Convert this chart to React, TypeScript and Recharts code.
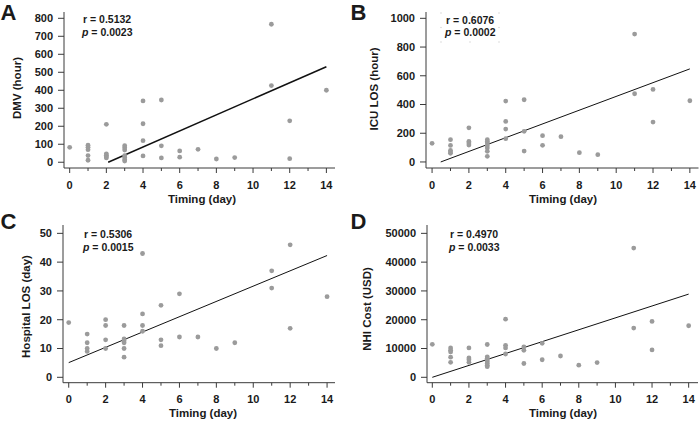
import React from "react";
import { ScatterChart, Scatter, XAxis, YAxis, ReferenceLine } from "recharts";

// timing (day) axis, shared by all four panels
const timingTicks = [0, 1, 2, 3, 4, 5, 6, 7, 8, 9, 10, 11, 12, 13, 14];

// A: duration of mechanical ventilation (hour)
const dmvTiming = [0, 1, 1, 1, 1, 1, 2, 2, 2, 2, 2, 3, 3, 3, 3, 3, 3, 3, 4, 4, 4, 4, 5, 5, 5, 6, 6, 7, 8, 9, 11, 11, 12, 12, 14];
const dmvHours = [83, 95, 83, 70, 37, 11, 211, 47, 39, 30, 24, 92, 81, 68, 37, 26, 14, 7, 341, 214, 120, 35, 346, 91, 24, 63, 28, 72, 18, 26, 767, 426, 230, 20, 400];
const dmvTicks = [0, 100, 200, 300, 400, 500, 600, 700, 800];
const dmvFit = [{ x: 2.1, y: 0 }, { x: 14, y: 531 }];

// B: ICU length of stay (hour)
const icuTiming = [0, 1, 1, 1, 1, 1, 2, 2, 2, 2, 3, 3, 3, 3, 3, 3, 3, 4, 4, 4, 4, 5, 5, 5, 6, 6, 7, 8, 9, 11, 11, 12, 12, 14];
const icuHours = [130, 155, 115, 80, 69, 60, 238, 143, 132, 118, 155, 143, 132, 113, 97, 74, 39, 424, 282, 229, 162, 433, 213, 76, 183, 116, 176, 65, 51, 890, 475, 505, 278, 426];
const icuTicks = [0, 200, 400, 600, 800, 1000];
const icuFit = [{ x: 0.47, y: 0 }, { x: 14, y: 648 }];

// C: hospital length of stay (day)
const losTiming = [0, 1, 1, 1, 1, 2, 2, 2, 2, 3, 3, 3, 3, 3, 3, 4, 4, 4, 4, 5, 5, 5, 6, 6, 7, 8, 9, 11, 11, 12, 12, 14];
const losDays = [19, 15, 12, 10, 9, 20, 18, 13, 10, 18, 13.3, 12.7, 12, 10, 7, 43, 22, 18, 16, 25, 13, 11, 29, 14, 14, 10, 12, 37, 31, 46, 17, 28];
const losTicks = [0, 10, 20, 30, 40, 50];
const losFit = [{ x: 0, y: 5.1 }, { x: 14, y: 42.3 }];

// D: NHI cost (USD)
const costTiming = [0, 1, 1, 1, 1, 1, 2, 2, 2, 2, 3, 3, 3, 3, 3, 3, 3, 3, 4, 4, 4, 4, 5, 5, 5, 6, 6, 7, 8, 9, 11, 11, 12, 12, 14];
const costUsd = [11460, 10200, 9400, 8800, 7000, 5200, 10200, 6700, 6100, 5200, 11400, 7100, 6600, 6000, 5400, 4800, 4200, 3700, 20200, 11100, 10200, 8100, 10600, 9400, 4800, 11800, 6100, 7400, 4200, 5100, 44900, 17100, 19400, 9500, 17900];
const costTicks = [0, 10000, 20000, 30000, 40000, 50000];
const costFit = [{ x: 0, y: 0 }, { x: 14, y: 28900 }];

const AXIS = "#3a3a3a";
const TEXT = "#1a1a1a";
const DOT = "#9b9b9b";
const FONT = '"Liberation Sans", Arial, sans-serif';

const toPoints = (xs: number[], ys: number[]) => xs.map((x, i) => ({ x, y: ys[i] }));

function TimingTick(props: any) {
  const { x, y, payload } = props;
  const major = payload.value % 2 === 0;
  return (
    <g>
      <line x1={x} x2={x} y1={y} y2={y + (major ? 5 : 3)} stroke={AXIS} />
      {major && (
        <text x={x} y={y + 20.5} textAnchor="middle" fontSize={11} fontWeight="bold" fill={TEXT}>
          {payload.value}
        </text>
      )}
    </g>
  );
}

const Dot = (p: any) => <circle cx={p.cx} cy={p.cy} r={2.4} fill={DOT} />;

interface PanelProps {
  left: number;
  top: number;
  height: number;
  yWidth: number;
  xHeight: number;
  marginTop: number;
  marginRight: number;
  xDomain: [number, number];
  yDomain: [number, number];
  yTicks: number[];
  points: { x: number; y: number }[];
  fit: { x: number; y: number }[];
  fitWidth: number;
}

function Panel(p: PanelProps) {
  return (
    <div style={{ position: "absolute", left: p.left, top: p.top }}>
      <ScatterChart
        width={350}
        height={p.height}
        margin={{ top: p.marginTop, right: p.marginRight, bottom: 0, left: 0 }}
      >
        <XAxis
          type="number"
          dataKey="x"
          domain={p.xDomain}
          allowDataOverflow
          ticks={timingTicks}
          interval={0}
          tickSize={0}
          tickMargin={0}
          height={p.xHeight}
          axisLine={{ stroke: AXIS }}
          tickLine={false}
          tick={<TimingTick />}
        />
        <YAxis
          type="number"
          dataKey="y"
          domain={p.yDomain}
          allowDataOverflow
          ticks={p.yTicks}
          interval={0}
          width={p.yWidth}
          tickSize={6}
          tickMargin={5}
          axisLine={{ stroke: AXIS }}
          tickLine={{ stroke: AXIS }}
          tick={{ fontSize: 11, fontWeight: "bold", fill: TEXT }}
        />
        <Scatter data={p.points} shape={Dot} isAnimationActive={false} />
        <ReferenceLine segment={p.fit} stroke="#111" strokeWidth={p.fitWidth} ifOverflow="visible" />
      </ScatterChart>
    </div>
  );
}

// faint handle dots around the B annotation box
const handles = [
  [441, 13], [470, 13], [499, 13],
  [441, 27.5], [499, 27.5],
  [441, 42], [470, 42], [499, 42],
];

export default function App() {
  const bold = { fontWeight: "bold" as const, fill: TEXT };
  return (
    <div style={{ position: "absolute", left: 0, top: 0, width: 700, height: 421, background: "#fff", fontFamily: FONT }}>
      <Panel
        left={0} top={0} height={210} yWidth={64} xHeight={42} marginTop={12} marginRight={15}
        xDomain={[-0.31, 14.47]} yDomain={[-32, 835]} yTicks={dmvTicks}
        points={toPoints(dmvTiming, dmvHours)} fit={dmvFit} fitWidth={1.5}
      />
      <Panel
        left={350} top={0} height={210} yWidth={76} xHeight={42} marginTop={12} marginRight={1.5}
        xDomain={[-0.33, 14.47]} yDomain={[-42, 1044]} yTicks={icuTicks}
        points={toPoints(icuTiming, icuHours)} fit={icuFit} fitWidth={1}
      />
      <Panel
        left={0} top={210} height={211} yWidth={63} xHeight={38.3} marginTop={15} marginRight={15}
        xDomain={[-0.31, 14.43]} yDomain={[-1.875, 52.9]} yTicks={losTicks}
        points={toPoints(losTiming, losDays)} fit={losFit} fitWidth={1}
      />
      <Panel
        left={350} top={210} height={211} yWidth={77} xHeight={38.3} marginTop={15} marginRight={2}
        xDomain={[-0.29, 14.51]} yDomain={[-1875, 52900]} yTicks={costTicks}
        points={toPoints(costTiming, costUsd)} fit={costFit} fitWidth={1}
      />
      <svg width={700} height={421} style={{ position: "absolute", left: 0, top: 0, pointerEvents: "none" }}>
        <g fontSize={22} {...bold}>
          <text x={0.5} y={20.2}>A</text>
          <text x={350.5} y={20.2}>B</text>
          <text x={0.5} y={229}>C</text>
          <text x={350.5} y={229}>D</text>
        </g>
        <g fontSize={10.5} {...bold}>
          <text x={83} y={22.5}>r = 0.5132</text>
          <text x={82} y={36}><tspan fontStyle="italic">p</tspan> = 0.0023</text>
          <text x={446} y={23.5}>r = 0.6076</text>
          <text x={445} y={36}><tspan fontStyle="italic">p</tspan> = 0.0002</text>
          <text x={84} y={238}>r = 0.5306</text>
          <text x={83} y={251}><tspan fontStyle="italic">p</tspan> = 0.0015</text>
          <text x={450} y={238}>r = 0.4970</text>
          <text x={449} y={251}><tspan fontStyle="italic">p</tspan> = 0.0033</text>
        </g>
        {handles.map(([hx, hy], i) => (
          <rect key={i} x={hx - 0.6} y={hy - 0.6} width={1.2} height={1.2} fill="#d0d0d0" />
        ))}
        <g fontSize={11.5} {...bold} textAnchor="middle">
          <text x={202} y={202.5}>Timing (day)</text>
          <text x={563} y={202.5}>Timing (day)</text>
          <text x={203} y={417}>Timing (day)</text>
          <text x={563} y={417}>Timing (day)</text>
          <text transform="translate(21,88) rotate(-90)">DMV (hour)</text>
          <text transform="translate(378,89) rotate(-90)">ICU LOS (hour)</text>
          <text transform="translate(29.5,306.5) rotate(-90)">Hospital LOS (day)</text>
          <text transform="translate(370.5,309) rotate(-90)">NHI Cost (USD)</text>
        </g>
      </svg>
    </div>
  );
}
